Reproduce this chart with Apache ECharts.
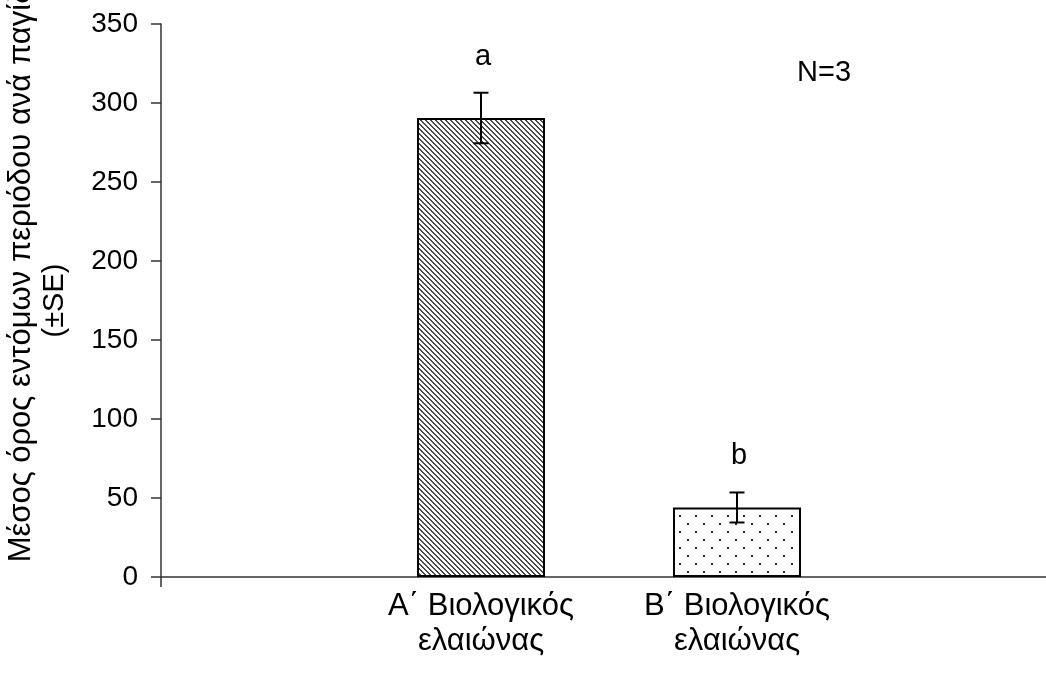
<!DOCTYPE html>
<html>
<head>
<meta charset="utf-8">
<script src="https://cdn.jsdelivr.net/npm/echarts@6/dist/echarts.min.js"></script>
<style>
  html, body { margin: 0; padding: 0; background: #fff; }
  #chart { width: 1046px; height: 682px; }
</style>
</head>
<body>
<div id="chart"></div>
<script>
// data
var categories = ['Α΄ Βιολογικός\nελαιώνας', 'Β΄ Βιολογικός\nελαιώνας'];
var means = [290.5, 44];
var se = [16, 9.5];
var letters = ['a', 'b'];
var yTicks = [0, 50, 100, 150, 200, 250, 300, 350];

var FONT = '"Liberation Sans", Arial, sans-serif';

// the plot has 7 slots, the two bars sit in slots 2 and 4
var slotCount = 7;
var barSlots = [2, 4];

function hatchPattern() {
  var c = document.createElement('canvas');
  c.width = 5; c.height = 5;
  var ctx = c.getContext('2d');
  ctx.fillStyle = '#fff';
  ctx.fillRect(0, 0, 5, 5);
  ctx.fillStyle = '#4a4a4a';
  for (var y = 0; y < 5; y++) {
    for (var x = 0; x < 5; x++) {
      var d = ((x - y) % 5 + 5) % 5;
      if (d === 0 || d === 1) ctx.fillRect(x, y, 1, 1);
    }
  }
  return { image: c, repeat: 'repeat' };
}

function dotPattern() {
  var c = document.createElement('canvas');
  c.width = 16; c.height = 16;
  var ctx = c.getContext('2d');
  ctx.fillStyle = '#fff';
  ctx.fillRect(0, 0, 16, 16);
  ctx.fillStyle = '#222';
  ctx.fillRect(7, 3, 2, 2);
  ctx.fillRect(15, 11, 1, 2);
  ctx.fillRect(0, 11, 1, 2);
  return { image: c, repeat: 'repeat' };
}

var patterns = [hatchPattern(), dotPattern()];

var slotLabels = [];
var barData = [];
for (var i = 0; i < slotCount; i++) { slotLabels.push(''); barData.push('-'); }
var errData = [];
barSlots.forEach(function (s, k) {
  slotLabels[s] = categories[k];
  barData[s] = {
    value: means[k],
    itemStyle: { color: patterns[k], borderColor: '#000', borderWidth: 2 }
  };
  errData.push([s, means[k] - se[k], means[k] + se[k], letters[k]]);
});

var chart = echarts.init(document.getElementById('chart'));
chart.setOption({
  animation: false,
  backgroundColor: '#fff',
  grid: { left: 161, top: 24, bottom: 105, width: 896, containLabel: false, outerBoundsMode: 'none' },
  xAxis: {
    type: 'category',
    data: slotLabels,
    axisLine: { lineStyle: { color: '#333', width: 1.5 } },
    axisTick: {
      show: true,
      length: 10,
      interval: function (index) { return index === 0; },
      lineStyle: { color: '#333', width: 1.5 }
    },
    axisLabel: {
      interval: 0,
      color: '#000',
      fontFamily: FONT,
      fontSize: 31,
      lineHeight: 35,
      margin: 12
    },
    splitLine: { show: false }
  },
  yAxis: {
    type: 'value',
    min: yTicks[0],
    max: yTicks[yTicks.length - 1],
    interval: 50,
    name: '{a|Μέσος όρος εντόμων περιόδου ανά παγίδα}\n{b|(±SE)}',
    nameLocation: 'middle',
    nameGap: 90,
    nameRotate: 90,
    nameTextStyle: {
      color: '#000', fontFamily: FONT, fontSize: 31, lineHeight: 33,
      rich: {
        a: { fontFamily: FONT, fontSize: 31, lineHeight: 33, padding: [0, 0, 0, 70] },
        b: { fontFamily: FONT, fontSize: 29, lineHeight: 33 }
      }
    },
    axisLine: { show: true, lineStyle: { color: '#333', width: 1.5 } },
    axisTick: { show: true, length: 10, lineStyle: { color: '#333', width: 1.5 } },
    axisLabel: { color: '#000', fontFamily: FONT, fontSize: 28, margin: 23 },
    splitLine: { show: false }
  },
  graphic: [{
    type: 'text',
    left: 797,
    top: 58,
    style: { text: 'N=3', fill: '#000', font: '29px ' + FONT }
  }],
  series: [
    {
      type: 'bar',
      data: barData,
      barWidth: 128,
      z: 2
    },
    {
      type: 'custom',
      data: errData,
      z: 5,
      renderItem: function (params, api) {
        var x = api.coord([api.value(0), 0])[0];
        var lo = api.coord([api.value(0), api.value(1)])[1];
        var hi = api.coord([api.value(0), api.value(2)])[1];
        var cap = 7.5;
        var st = { stroke: '#000', lineWidth: 2 };
        return {
          type: 'group',
          children: [
            { type: 'line', shape: { x1: x, y1: lo, x2: x, y2: hi }, style: st },
            { type: 'line', shape: { x1: x - cap, y1: hi, x2: x + cap, y2: hi }, style: st },
            { type: 'line', shape: { x1: x - cap, y1: lo, x2: x + cap, y2: lo }, style: st },
            {
              type: 'text',
              x: x + 2,
              y: hi - 36,
              style: {
                text: letters[params.dataIndex],
                fill: '#000',
                font: '29px ' + FONT,
                align: 'center',
                verticalAlign: 'middle'
              }
            }
          ]
        };
      }
    }
  ]
});
</script>
</body>
</html>
